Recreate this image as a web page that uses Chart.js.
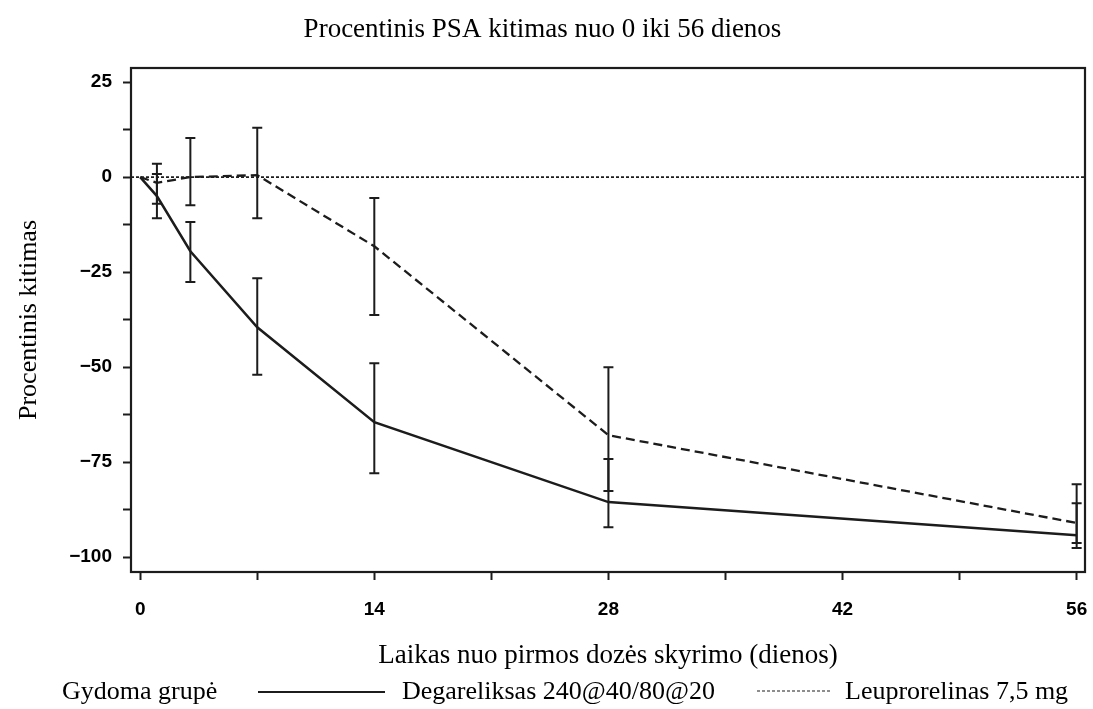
<!DOCTYPE html>
<html>
<head>
<meta charset="utf-8">
<script src="https://cdn.jsdelivr.net/npm/chart.js@4.4.0/dist/chart.umd.min.js"></script>
<style>
  html, body { margin: 0; background: #fff; }
  #wrap { width: 1093px; height: 709px; position: relative; }
</style>
</head>
<body>
<div id="wrap"><canvas id="psaChart"></canvas></div>
<script>
// days after first dose
const days = [0, 1, 3, 7, 14, 28, 56];

// degarelix 240@40/80@20 (solid)
const degarelix = [0, -5, -19.5, -39.5, -64.5, -85.5, -94.2];
const degarelixLow = [null, -10.8, -27.6, -52, -77.9, -92.1, -97.6];
const degarelixHigh = [null, 0.8, -11.8, -26.6, -49, -74.2, -85.8];

// leuprorelin 7.5 mg (dashed)
const leuprorelin = [0, -1.5, 0, 0.5, -18.2, -67.9, -91];
const leuprorelinLow = [null, -7, -7.4, -10.8, -36.3, -82.6, -96.3];
const leuprorelinHigh = [null, 3.5, 10.3, 13, -5.5, -50, -80.8];

const xTicks = [0, 7, 14, 21, 28, 35, 42, 49, 56];
const xLabels = [0, 14, 28, 42, 56];
const yTicks = [-100, -87.5, -75, -62.5, -50, -37.5, -25, -12.5, 0, 12.5, 25];
const yLabels = [-100, -75, -50, -25, 0, 25];

const INK = '#1c1c1c';
const SERIF = '"Liberation Serif", "Times New Roman", serif';
const SANS = '"Liberation Sans", Arial, sans-serif';

const toPoints = vals => days.map((d, i) => ({ x: d, y: vals[i] }));

const frame = {
    id: 'frame',
    afterDraw(chart) {
        const { ctx, chartArea: a } = chart;
        ctx.save();
        ctx.strokeStyle = INK;
        ctx.lineWidth = 2.2;
        ctx.strokeRect(a.left, a.top, a.right - a.left, a.bottom - a.top);
        ctx.restore();
    }
};

const errorBars = {
    id: 'errorBars',
    afterDatasetsDraw(chart) {
        const { ctx, scales: { x, y } } = chart;
        ctx.save();
        ctx.strokeStyle = INK;
        ctx.lineWidth = 2;
        [[degarelixLow, degarelixHigh], [leuprorelinLow, leuprorelinHigh]].forEach(([lo, hi]) => {
            days.forEach((d, i) => {
                if (lo[i] == null) return;
                const px = x.getPixelForValue(d);
                const y1 = y.getPixelForValue(lo[i]);
                const y2 = y.getPixelForValue(hi[i]);
                ctx.beginPath();
                ctx.moveTo(px, y1); ctx.lineTo(px, y2);
                ctx.moveTo(px - 5, y1); ctx.lineTo(px + 5, y1);
                ctx.moveTo(px - 5, y2); ctx.lineTo(px + 5, y2);
                ctx.stroke();
            });
        });
        ctx.restore();
    }
};

// legend row under the x axis title
const legendRow = {
    id: 'legendRow',
    afterDraw(chart) {
        const { ctx } = chart;
        const yy = 692;
        ctx.save();
        ctx.fillStyle = '#000';
        ctx.textBaseline = 'middle';
        ctx.textAlign = 'left';
        ctx.font = '26px ' + SERIF;
        ctx.fillText('Gydoma grupė', 62, yy);
        ctx.fillText(chart.data.datasets[1].label, 402, yy);
        ctx.fillText(chart.data.datasets[2].label, 845, yy);
        ctx.strokeStyle = INK;
        ctx.lineWidth = 2;
        ctx.beginPath(); ctx.moveTo(258, yy); ctx.lineTo(385, yy); ctx.stroke();
        ctx.lineWidth = 1.2;
        ctx.setLineDash([3, 2]);
        ctx.beginPath(); ctx.moveTo(757, yy - 1); ctx.lineTo(830, yy - 1); ctx.stroke();
        ctx.restore();
    }
};

new Chart(document.getElementById('psaChart'), {
    type: 'line',
    data: {
        datasets: [
            {
                label: 'ref',
                data: [{ x: -0.55, y: 0 }, { x: 56.5, y: 0 }],
                borderColor: INK, borderWidth: 1.6, borderDash: [3, 2],
                pointRadius: 0
            },
            {
                label: 'Degareliksas 240@40/80@20',
                data: toPoints(degarelix),
                borderColor: INK, borderWidth: 2.5,
                pointRadius: 0, tension: 0
            },
            {
                label: 'Leuprorelinas 7,5 mg',
                data: toPoints(leuprorelin),
                borderColor: INK, borderWidth: 2.3, borderDash: [9, 5],
                pointRadius: 0, tension: 0
            }
        ]
    },
    options: {
        responsive: true, maintainAspectRatio: false, animation: false,
        layout: { padding: { top: 0, right: 8, bottom: 37, left: 0 } },
        plugins: {
            legend: { display: false },
            tooltip: { enabled: false },
            title: {
                display: true,
                text: 'Procentinis PSA kitimas nuo 0 iki 56 dienos',
                color: '#000',
                font: { family: SERIF, size: 27, weight: 'normal' },
                padding: { top: 14, bottom: 21.6 }
            }
        },
        scales: {
            x: {
                type: 'linear', min: -0.55, max: 56.5,
                afterBuildTicks: s => { s.ticks = xTicks.map(v => ({ value: v })); },
                afterFit: s => { s.height = 100; s.paddingLeft = 0; s.paddingRight = 0; },
                border: { display: false },
                grid: { drawOnChartArea: false, drawTicks: true, tickLength: 8, tickColor: INK, tickWidth: 2 },
                ticks: {
                    color: '#000', padding: 18, maxRotation: 0, autoSkip: false,
                    font: { family: SANS, size: 19, weight: 'bold' },
                    callback: v => xLabels.includes(v) ? String(v) : ''
                },
                title: {
                    display: true, text: 'Laikas nuo pirmos dozės skyrimo (dienos)', color: '#000',
                    font: { family: SERIF, size: 27, weight: 'normal' },
                    padding: { top: 0, bottom: 0 }
                }
            },
            y: {
                type: 'linear', min: -103.9, max: 28.7,
                afterBuildTicks: s => { s.ticks = yTicks.map(v => ({ value: v })); },
                afterFit: s => { s.width = 131; s.paddingTop = 0; s.paddingBottom = 0; },
                border: { display: false },
                grid: { drawOnChartArea: false, drawTicks: true, tickLength: 8, tickColor: INK, tickWidth: 2 },
                ticks: {
                    color: '#000', padding: 11, autoSkip: false,
                    font: { family: SANS, size: 19, weight: 'bold' },
                    callback: v => yLabels.includes(v) ? String(v).replace('-', '\u2212') : ''
                },
                title: {
                    display: true, text: 'Procentinis kitimas', color: '#000',
                    font: { family: SERIF, size: 26, weight: 'normal' },
                    padding: { top: 14, bottom: 0 }
                }
            }
        }
    },
    plugins: [frame, errorBars, legendRow]
});
</script>
</body>
</html>
